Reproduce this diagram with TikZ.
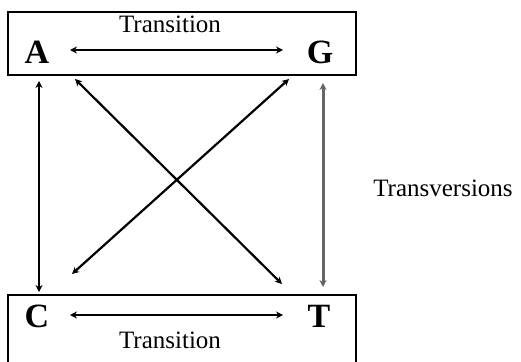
\documentclass[tikz,border=0pt]{standalone}
\usepackage{fontspec}
\setmainfont{Liberation Serif}
\usetikzlibrary{arrows.meta}
\begin{document}
\begin{tikzpicture}[x=1pt,y=-1pt,
  base/.style={inner sep=0pt},
  letter/.style={base,font=\fontsize{34}{34}\selectfont\bfseries},
  lbl/.style={base,font=\fontsize{25}{25}\selectfont},
  frame/.style={draw,line width=2pt,inner sep=0pt},
  conn/.style={line width=2.2pt,{Stealth[length=7pt,width=7pt]}-{Stealth[length=7pt,width=7pt]}}]
\useasboundingbox (0,0) rectangle (521,361);
\node[frame,minimum width=348pt,minimum height=63pt] (topbox) at (182,43.5) {};
\node[frame,minimum width=348pt,minimum height=70pt] (botbox) at (182,330) {};
\node[letter] (A) at (37,52) {A};
\node[letter] (G) at (320,52) {G};
\node[letter] (C) at (37,316) {C};
\node[letter] (T) at (319,316) {T};
\node[lbl] (t1) at (170,24) {Transition};
\node[lbl] (t2) at (170,340) {Transition};
\node[lbl] (tv) at (443,188) {Transversions};
\draw[conn] ([shift={(33,-2)}]A.center) -- ([shift={(-37,-2)}]G.center);
\draw[conn] ([shift={(33,-1)}]C.center) -- ([shift={(-36,-1)}]T.center);
\draw[conn,line width=1.8pt] ([shift={(2,29)}]A.center) -- ([shift={(2,-24)}]C.center);
\draw[conn,line width=3pt,black!60] ([shift={(3,31)}]G.center) -- ([shift={(4,-29)}]T.center);
\draw[conn] ([shift={(38,27)}]A.center) -- ([shift={(-37,-32)}]T.center);
\draw[conn] ([shift={(-31,27)}]G.center) -- ([shift={(35,-42)}]C.center);
\end{tikzpicture}
\end{document}
